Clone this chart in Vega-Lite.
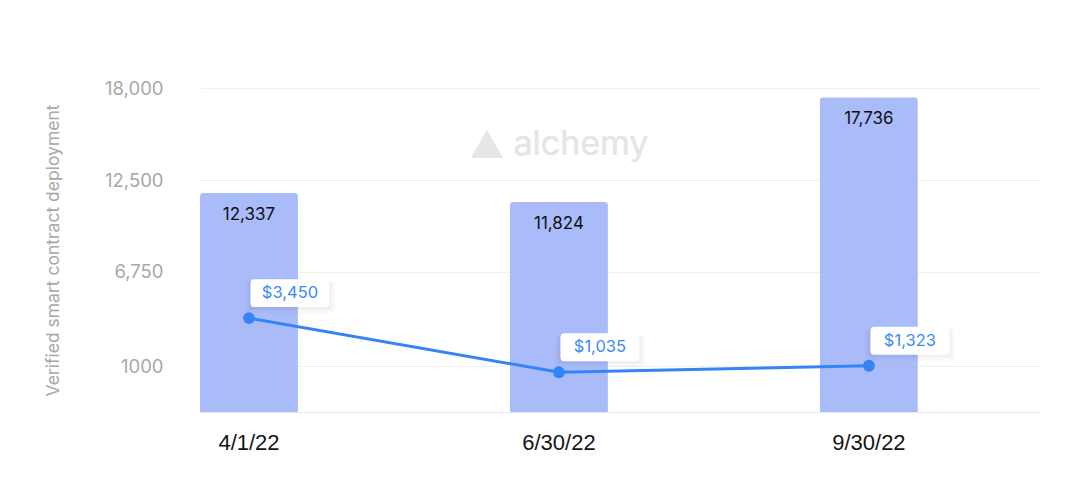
{
  "$schema": "https://vega.github.io/schema/vega-lite/v6.json",
  "width": 840,
  "height": 324,
  "autosize": "none",
  "padding": {"left": 200, "top": 88, "right": 40, "bottom": 87},
  "background": "white",
  "config": {"view": {"stroke": null}, "font": "Inter"},
  "data": {
    "values": [
      {"date": "4/1/22", "contracts": 12337, "price": 3450, "price_label": "$3,450"},
      {"date": "6/30/22", "contracts": 11824, "price": 1035, "price_label": "$1,035"},
      {"date": "9/30/22", "contracts": 17736, "price": 1323, "price_label": "$1,323"}
    ]
  },
  "encoding": {
    "x": {
      "field": "date",
      "type": "nominal",
      "sort": null,
      "scale": {"paddingInner": 0.684, "paddingOuter": 0.197, "align": 0},
      "axis": {
        "title": null,
        "labelAngle": 0,
        "ticks": false,
        "domainColor": "#e6e8f0",
        "domainWidth": 1,
        "labelFont": "Liberation Sans",
        "labelFontSize": 22,
        "labelColor": "#151515",
        "labelPadding": 20,
        "grid": false
      }
    }
  },
  "layer": [
    {
      "encoding": {
        "y": {
          "field": "contracts",
          "type": "quantitative",
          "scale": {"domain": [0, 18250], "nice": false, "zero": true},
          "axis": {
            "title": "Verified smart contract deployment",
            "titleFont": "Inter",
            "titleFontSize": 17.5,
            "titleFontWeight": "normal",
            "titleColor": "#a8a8a8",
            "titlePadding": 42,
            "values": [2591, 7886, 13067, 18249],
            "labelExpr": "datum.value > 18000 ? '18,000' : datum.value > 13000 ? '12,500' : datum.value > 7000 ? '6,750' : '1000'",
            "labelFontSize": 18.5,
            "labelColor": "#a8a8a8",
            "labelPadding": 37,
            "ticks": false,
            "domain": false,
            "grid": true,
            "gridColor": "#eef0f6",
            "gridWidth": 1
          }
        }
      },
      "layer": [
        {
          "mark": {"type": "bar", "color": "#a9bbf8", "cornerRadiusTopLeft": 3, "cornerRadiusTopRight": 3}
        },
        {
          "mark": {"type": "text", "baseline": "middle", "dy": 22, "fontSize": 17, "color": "#111111"},
          "encoding": {"text": {"field": "contracts", "type": "quantitative", "format": ","}}
        },
        {
          "mark": {"type": "text", "text": "alchemy", "fontSize": 34, "color": "#e6e6e6", "dx": 22, "baseline": "middle"},
          "encoding": {"x": {"datum": "6/30/22"}, "y": {"datum": 15040}}
        },
        {
          "mark": {"type": "point", "shape": "triangle-up", "filled": true, "color": "#e6e6e6", "size": 1000, "opacity": 1, "xOffset": -72, "yOffset": -1},
          "encoding": {"x": {"datum": "6/30/22"}, "y": {"datum": 15040}}
        }
      ]
    },
    {
      "encoding": {
        "y": {
          "field": "price",
          "type": "quantitative",
          "scale": {"domain": [-740, 13720], "nice": false, "zero": false},
          "axis": null
        }
      },
      "layer": [
        {
          "mark": {"type": "line", "color": "#3584f7", "strokeWidth": 3}
        },
        {
          "mark": {"type": "point", "filled": true, "color": "#3584f7", "size": 140, "opacity": 1}
        },
        {
          "mark": {
            "type": "point",
            "filled": true,
            "shape": "M-0.9,-0.354L0.9,-0.354Q1,-0.354 1,-0.254L1,0.254Q1,0.354 0.9,0.354L-0.9,0.354Q-1,0.354 -1,0.254L-1,-0.254Q-1,-0.354 -0.9,-0.354Z",
            "size": 8100,
            "color": "#000000",
            "opacity": 0.025,
            "xOffset": 41,
            "yOffset": -21
          }
        },
        {
          "mark": {
            "type": "point",
            "filled": true,
            "shape": "M-0.9,-0.354L0.9,-0.354Q1,-0.354 1,-0.254L1,0.254Q1,0.354 0.9,0.354L-0.9,0.354Q-1,0.354 -1,0.254L-1,-0.254Q-1,-0.354 -0.9,-0.354Z",
            "size": 7000,
            "color": "#000000",
            "opacity": 0.035,
            "xOffset": 41,
            "yOffset": -23
          }
        },
        {
          "mark": {
            "type": "point",
            "filled": true,
            "shape": "M-0.9,-0.354L0.9,-0.354Q1,-0.354 1,-0.254L1,0.254Q1,0.354 0.9,0.354L-0.9,0.354Q-1,0.354 -1,0.254L-1,-0.254Q-1,-0.354 -0.9,-0.354Z",
            "size": 6241,
            "color": "#ffffff",
            "opacity": 1,
            "xOffset": 41,
            "yOffset": -25
          }
        },
        {
          "mark": {"type": "text", "fontSize": 16.5, "color": "#3d8af6", "baseline": "middle", "dx": 41, "dy": -25},
          "encoding": {"text": {"field": "price_label", "type": "nominal"}}
        }
      ]
    }
  ],
  "resolve": {"scale": {"y": "independent"}}
}
